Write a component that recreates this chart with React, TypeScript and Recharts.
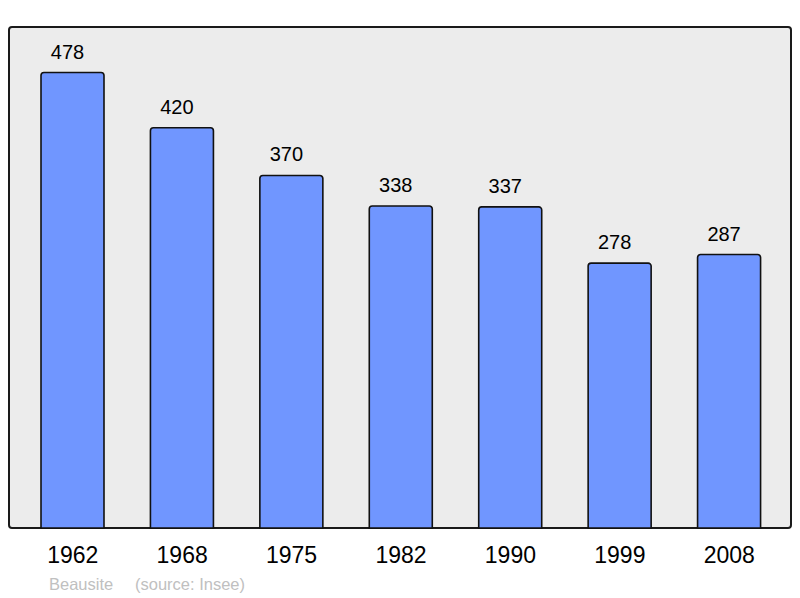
import React from 'react';
import { BarChart, Bar, XAxis, YAxis, LabelList } from 'recharts';

const years = ['1962', '1968', '1975', '1982', '1990', '1999', '2008'];
const population = [478, 420, 370, 338, 337, 278, 287];
const yMax = 525.8;
const townName = 'Beausite';
const sourceText = '(source: Insee)';

const data = years.map((year, i) => ({ year, value: population[i] }));

const FONT = '"Liberation Sans", Arial, sans-serif';

const ValueLabel = (props: any) => {
  const { x, y, width, value } = props;
  return (
    <text x={x + width / 2 - 5} y={y - 14} textAnchor="middle" fill="#000" fontSize={20} fontFamily={FONT}>
      {value}
    </text>
  );
};

export default function App() {
  return (
    <div style={{ position: 'absolute', left: 0, top: 0, width: 800, height: 598, background: '#fff', fontFamily: FONT }}>
      <div
        style={{
          position: 'absolute',
          left: 8,
          top: 26,
          width: 784,
          height: 503,
          boxSizing: 'border-box',
          border: '2px solid #1a1a1a',
          borderRadius: 4,
          background: '#ececec',
        }}
      />
      <div style={{ position: 'absolute', left: 0, top: 0 }}>
        <BarChart
          width={800}
          height={598}
          data={data}
          margin={{ top: 27, right: 9, left: 9, bottom: 0 }}
          barSize={63}
        >
          <XAxis
            dataKey="year"
            height={70}
            axisLine={false}
            tickLine={false}
            padding={{ left: 9, right: 7 }}
            interval={0}
            tick={{ fontSize: 23, fill: '#000', fontFamily: FONT }}
            tickMargin={13}
          />
          <YAxis hide domain={[0, yMax]} />
          <Bar
            dataKey="value"
            fill="#7096ff"
            stroke="#111"
            strokeWidth={1.6}
            radius={[3, 3, 0, 0]}
            isAnimationActive={false}
          >
            <LabelList dataKey="value" content={ValueLabel} />
          </Bar>
          <text x={49} y={590} fill="#c0c0c0" fontSize={16.5} fontFamily={FONT}>{townName}</text>
          <text x={135} y={590} fill="#c0c0c0" fontSize={16.5} fontFamily={FONT}>{sourceText}</text>
        </BarChart>
      </div>
    </div>
  );
}
